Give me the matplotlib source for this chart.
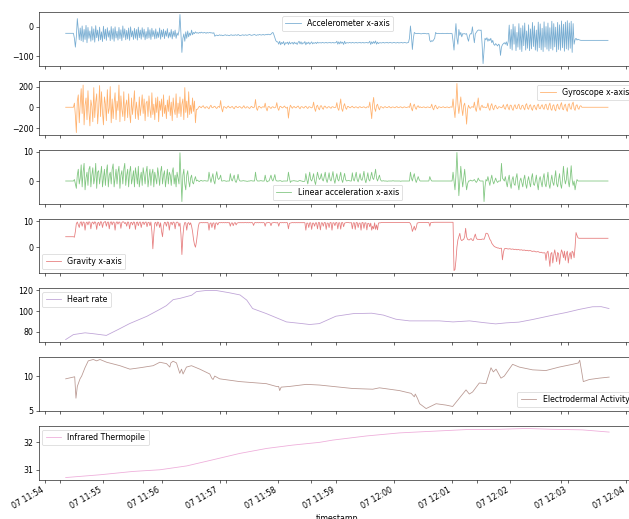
"""Seven stacked sensor traces (wrist device) over a ten-minute session."""

import matplotlib
matplotlib.use("Agg")
import matplotlib.dates as mdates
import matplotlib.pyplot as plt
import numpy as np
import pandas as pd

T0 = pd.Timestamp("2021-06-07 11:54:21")
STEP_S = 1  # sampling step of the motion channels, seconds

# motion channels, one value every STEP_S seconds
ACC_X = [
    -23, -23, -23, -23, -23, -23, -23, -23, -23,
    -40, -70, -35, 27, -10, -45,
    -5, -48, 2, -52, -10, -44, 4, -55, -3, -40,
    -15, -50, 0, -46, -8, -53, 3, -38, -12, -49,
    -2, -45, -18, -51, 1, -42, -9, -47, -4, -36,
    -14, -48, 0, -43, -7, -50, -1, -39, -16, -46,
    -3, -41, -11, -48, 2, -37, -8, -45, -13, -42,
    -5, -47, -1, -35, -15, -44, -6, -40, -10, -46,
    -2, -38, -12, -43, -4, -36, -9, -45, -17, -41,
    -3, -39, -11, -44, -6, -34, -14, -42, -8, -40,
    -18, -37, -5, -43, -12, -35, -9, -41, -15, -33,
    -7, -39, -20, -36, -10, -42, -16, -34, -12, -40, -22, -30, -15,
    41, -20, -88, -40,
    -25, -50, -18, -40, -15, -35, -22, -30, -12, -28,
    -20, -24, -18, -22, -21, -23, -20, -22, -19, -21,
    -22, -20, -21, -23, -20, -22, -21, -20, -22, -21, -23, -21,
    -33,
    -30, -29, -31, -30, -28, -30, -29, -31, -30, -29,
    -28, -30, -29, -30, -31, -29, -28, -30, -29, -30,
    -28, -29, -30, -27, -29, -31, -30, -29, -28, -30,
    -29, -28, -30, -29, -28, -27, -29, -30, -29, -28,
    -27, -29, -30, -28, -29, -27, -28, -29, -28, -27,
    -29, -28, -27, -28, -26, -27, -28, -26,
    -22, -20, -28, -38, -48, -52,
    -52, -60, -50, -62, -54, -58, -51, -63, -55, -57,
    -53, -61, -52, -59, -56, -54, -60, -53, -58, -55,
    -61, -54, -50, -59, -52, -60, -55, -57, -51, -62,
    -54, -58, -53, -60, -56, -52, -59, -55, -57, -54,
    -58, -53, -56, -55,
    -55, -56, -54, -55, -56, -55, -54, -56, -55, -55,
    -54, -56, -55, -54, -56, -55, -55,
    -50, -60, -52, -59, -51, -57, -53, -61, -50, -58, -55,
    -55, -56, -54, -55, -56, -54, -55, -56, -55, -54,
    -56, -55, -55, -54, -56, -55, -54, -56, -55, -55, -54, -56, -55,
    -50, -61, -52, -58, -51, -57, -49, -60, -53, -58, -55,
    -55, -56, -55, -54, -56, -55, -55, -54, -56, -55,
    -54, -55, -56, -55, -54, -55, -56, -55, -54, -56,
    -55, -55, -54, -56, -55, -54, -55, -56, -55, -54,
    -40, 2, -30, -78, -40,
    -20, -23, -24, -24, -23, -24, -24, -25, -24, -24,
    -23, -24, -24, -25, -24, -24,
    -47, -52, -48, -50, -45, -40, -20,
    -24, -24, -23, -24, -24, -24, -23, -24, -24, -24,
    -24, -23, -24, -24, -24, -23, -24,
    -50, -80, -30, 10, -40, -60, -10, -30, -20, -35,
    -24, -25, -24, -26, -24, -40, -50, -30, -24, -25,
    -1, -30, -55, -25, -20, -15,
    -12, -12, -13, -12, -60, -126, -80, -40,
    -45, -38, -50, -42, -48, -40, -55, -47, -60, -64,
    -58, -62, -66, -60, -63, -98, -70, -62, -58, -55,
    -60, -52, -65, -50,
    5, -75, -10, -80, 8, -60, 0, -82, -20, -70,
    10, -78, -5, -85, 3, -65, 12, -80, -15, -74,
    6, -82, -8, -76, 14, -68, 2, -80, -12, -84,
    15, -72, 9, -79, -6, -85, 16, -70, 0, -77,
    12, -83, -4, -75, 18, -80, 10, -69, -2, -86,
    14, -78, 6, -81, 19, -72, 8, -84, 15, -76,
    20, -80, 12, -74, 18, -88, 10, -60,
    -44, -40, -46, -43, -45, -46,
    -47, -47, -47, -47, -47, -47, -47, -47, -47, -47,
    -47, -47, -47, -47, -47, -47, -47, -47, -47, -47,
    -47, -47, -47, -47, -47, -47, -47, -47, -47,
]

GYRO_X = [
    0, 0, 0, 0, 0, 0, 0, 0, 0,
    40, -80, -245, 60, 120, -150, 30, 180, -60, 215,
    -170, 20, 90, -120, 160, -40, -180, 70, 10, -140,
    190, -100, 50, 130, -160, -20, 210, -90, 150, -50,
    -170, 100, 30, -130, 170, -60, -10, 200, -150, 80,
    -110, 40, 140, -120, 60, -30, 215, -140, 110, -20,
    -90, 150, -130, 20, 70, -100, 130, -60, -150, 90,
    -70, 30, 160, -110, 50, -40, -120, 100, -80, 10,
    120, -60, 80, -130, 40, 60, -90, 110, -20, -100,
    140, -70, 30, -120, 90, -50, 100, -140, 60, -30,
    80, -90, 120, -60, 20, -110, 70, -40, 110, -80,
    50, -130, 90, -20, -70, 130, -100, 40, -60, 100,
    -90, 30, 80, -120, 190, -50, 60, -100, 150, -70,
    20, -60, 90, -40, 60, -150, -20,
    -20, -5, 10, 3, -5, 8, 15, -2, -10, 4,
    5, -6, -15, 7, 20, -3, -5, 6, 10, -4, -12, 3, 8, -2,
    65, -10, -45, 5,
    5, -3, -10, 4, 12, -2, -6, 3, 8, -5,
    -15, 4, 10, -2, -4, 6, 6, -3, -10, 2,
    15, -4, -8, 5, 4, -6, -12, 3, 9, -2, -5, 4,
    75, -10, -30, 5,
    10, -2, -8, 3, 5, -1,
    40, -10, -35, 4,
    8, -3, -12, 2, 6, -4, -5, 3,
    45, -8, -30, 5,
    10, -2, -6, 4, 12, -3, -8, 2,
    -105, -20, 20, 5,
    -10, 3, 8, -4, -5, 6, 12, -3, -15, 4,
    6, -2, -8, 5, 10, -3, -12, 4, 5, -2, -6, 3,
    50, -10, -40, 8,
    20, -10, -25, 12, 15, -8, -20, 10, 10, -5,
    -8, 4, 6, -3, -10, 5, 5, -2, -4, 2,
    45, -10, -30, 20, 80, -15, -40, 10, 35, -5, -20, 8,
    8, -3, -5, 4, 10, -2, -6, 3, 4, -2,
    -8, 3, 6, -2, -3, 2, 5, -2, -7, 3, 4, -1,
    50, -20, -110, 30, 95, -10, -40, 15, 30, -5, -25, 5,
    5, -2, -8, 3, 6, -2, -4, 2, 8, -3,
    -6, 2, 3, -1, -5, 2, 7, -2, -4, 2,
    5, -2, -6, 2, 4, -1, -3, 1, 5, -2,
    40, -10, -35, 15, 30, -5, -20, 8, 15, -3,
    5, -2, -3, 2, 4, -2, -5, 2, 3, -1, -4, 2,
    30, -8, -25, 10, 20, -5, -15, 4,
    4, -1, -3, 2, 5, -2, -4, 1, 3, -1, -5, 2, 4, -1,
    80, -20, -100, 40, 230, 30, -60, 20, 100, -10, -80, 15, 40, -30, -163, -20,
    20, -5, -10, 4, 5, -2,
    50, -10, -40, 20, 90, -5, -30, 8, 20, -3,
    5, -2, -5, 2,
    40, -10, -30, 15, 35, -8, -25, 10, 20, -5, -15, 4,
    5, -1, -5, 2,
    25, -10, -20, 15, 30, -5, -25, 20, 20, -15,
    -30, 10, 25, -8, -15, 18, 30, -12, -20, 14,
    20, -6, -25, 22, 35, -10, -20, 16, 25, -14,
    -30, 12, 20, -8, -25, 18, 30, -10, -15, 12,
    25, -8, -20, 20, 30, -12, -25, 18, 40, -15,
    -30, 14, 25, -20, -35, 16, 30, -10, -20, 22,
    45, -15, -25, 18, 30, -20, -40, 25, 35, -10,
    -20, 30, 50, -12, -30, 16, 25, -8, -20, 10,
    15,
    0, 0, 0, 0, 0, 0, 0, 0, 0, 0, 0, 0, 0, 0,
    0, 0, 0, 0, 0, 0, 0, 0, 0, 0, 0, 0, 0, 0,
]

LIN_X = [
    0, 0, 0, 0, 0, 0, 0, 0, 0,
    0.5, -1, -2.5, 2, 4, -1, 1, 5.5, -2, 3,
    6, -3, 1, 3, -1.5, 4, 5, -2, 2, 4.5,
    -1, 1, 6, -2.5, 3, 3.5, -1, 2, 5, -2,
    1, 4, -1.5, 3, 5.5, -2, 2, 3, -1, 4,
    5.8, -2, 1, 4, -1, 3, 5, -2.5, 2, 3.5,
    -1, 4, 6, -1.5, 2, 4, -2, 3, 5, -1,
    1, 3.5, -2, 4.5, 2, -1, 5, -2, 1, 3,
    -1.5, 4.5, 2, -1, 3, 5, -2, 1, 4, -1.5,
    2.5, 4, -2, 3, 1, -1, 4.5, 2, -1.5, 3,
    5, -1, 2, 3.5, -2, 1, 4, -1, 3, 2,
    -1.5, 3, 4.5, -1, 2, -2, 3, 1, -1,
    9.6, 1, -7, 2,
    4, -1, -3, 2, 3.5, 0, -2, 1, 2, -0.5, -1, 0.5, 1.5, 0,
    0.3, 0, -0.2, 0.1, 0.2, 0, 0, 0.1, 0.1, 0, 0, 0,
    3, 1, -0.5, 1, 2.5, 0, -1, 1.5, 3.2, 1, 0.5, 1, 2, 0,
    0, 0.1, 0.1, 0, -0.1, 0, 0, 0,
    2.5, 0.5, 0, 1, 2, 0, -0.5, 0.5, 2.3, 0.5, 0, 0,
    0, 0.1, 0.1, 0, 0, -0.1, -0.1, 0, 0, 0.1, 0.1, 0, 0, 0,
    3, 0.5, 0, 0,
    0, 0.1, 0.1, 0, 0, 0,
    2, 0.3, -0.3, 0,
    0, 1, 2, 0.5, 0, 1, 2.2, 0.3, 0, 0,
    0, 0.1, 0.1, -0.1, -0.1, 0, 0, 0, 0, 0,
    3, 1, -0.5, 0,
    0, 0.1, 0.1, 0, 0, -0.1, -0.1, 0.1, 0.2, 0, 0, -0.2, -0.2, 0,
    2.5, 0.5, -1, 1, 3, 0.5, 0, 1, 2.5, 0, -1.2, 1, 3, 1.5, 0.5, 1,
    2.5, 0.5, 0, 1.5, 3, 0.5, -0.5, 1, 2.8, 0.5,
    0, 1.5, 3.2, 0.5, -0.8, 1, 2.5, 0.5, 0, 1.5,
    3, 0.5, -0.5, 1, 2.6, 0.5, 0, 0.1,
    0.2, 0.1, 0, 0,
    2.8, 0.5, 0, 1.5, 3, 0.5, -0.3, 1, 2.5, 0.5,
    0.2, 1.5, 3.3, 0.5, -0.6, 1, 2.8, 0.5, 0, 1.5,
    3, 1, 0.5, 2, 4, 1, 0, 1, 2, 0.5,
    0, 0, 0.1, 0, 0, 0, -0.1, 0, 0, 0,
    0, 0, 0.1, 0, 0, 0, 0, 0, 0, 0,
    -0.1, 0, 0, 0, 0, 0, 0, 0, 0, 0,
    3, 1, 0, 1.5, 2.5, 0.5, -0.5, 0.5, 1.5, 0.5,
    0, 0, 0, 0, 0, 0, 0, 0, 0, 0,
    1.5, 0.5, 0, 0,
    0, 0, 0, 0, 0, 0, 0, 0, 0, 0,
    0, 0, 0, 0, 0, 0, 0, 0, 0, 0,
    3, 0, -3, 2, 9.7, 2, -5, 0, 5, 1, -2, 1, 4, 0, -3, -1,
    0, 0, 0.3, 0.1, 0, 0.2, 0.5, 0, -0.5, 0, 1, 0.3, 0, 0, 0, 0,
    -7, -2, 0.5, 0,
    1.5, 0, -1.5, 0.5, 2, 0, -1, 0, 1, 0, -0.5, 0,
    0, 0, 6, 1, 0.5, 0,
    1.5, -0.5, -2, 0.5, 2, -1, -2.5, 0.5, 1.5, -1,
    -1.5, 1, 2.5, -1, -3, 0, 1, -0.5, -2, 0.5,
    2, -1, -2.5, 0, 1.5, -0.5, -2, 1, 2.5, -1,
    -1.5, 0, 2, -1, -3, 0.5, 1.5, -0.5, -2, 1,
    2.5, -1, -2, 0.5, 3, -1, -2.5, 0, 2, -0.5,
    -1.5, 1, 3.5, -1, -2, 0.5, 2.5, -1, -2.5, 0.5,
    5, 1, -1, 0.5, 4.5, 0, -2, 1, 5.2, 0.5,
    -1.5, 0,
    -3, -1, 0.5, 0,
    0, 0, 0, 0, 0, 0, 0, 0, 0, 0,
    0, 0, 0, 0, 0, 0, 0, 0, 0, 0,
    0, 0, 0, 0, 0, 0, 0, 0, 0, 0, 0,
]

GRAV_X = [
    4, 4, 4, 4, 4, 4, 4, 4, 4, 3.8, 6, 9,
    9.6, 8.5, 7.5, 9.4, 9.7, 8, 9.6, 9.5, 6.5, 9.2,
    9.6, 8.5, 9.7, 9.5, 7, 9.3, 9.6, 8.8, 9.7, 9.4,
    6.8, 9.2, 9.5, 8.2, 9.7, 9.6, 7.5, 9.3, 9.6, 9.8,
    8, 9.5, 9.6, 7, 9.4, 9.7, 8.5, 9.6, 9.5, 6.5,
    9.3, 9.7, 8.8, 9.6, 9.5, 7.2, 9.4, 9.7, 9.6, 9,
    9.4, 8, 9.6, 9.5, 7, 9.3, 9.5, 8.5, 9.6, 9.5,
    6.8, 9.4, 9.6, 8.2, 9.5, 9.6, 7.5, 9.3, 9.6, 8.6,
    9.5, 9.6, 7.8, 9.4, 9.5, 8.2, 9.6, 6, -0.6, 5,
    9.2, 9.5, 8, 9.6, 9.4, 7.5, 9.3, 6, 4, 8,
    9.5, 9.4, 8, 9.6, 9.5, 6.5, 9.2, 9.5, 8.5, 9.6,
    9.4, 7, 9.3, 9.6, 9.4, 8, 9.2, 5, -2.8, 4,
    8, 9.4, 9.3, 6.5, 9.1, 9.4, 8.5, 9.3, 8, 6,
    3, 1, 0, 2, 5, 8, 9.3,
    9.3, 9.4, 9.3, 9.4, 9.3, 9.4, 9.3, 9.4, 9.3,
    6.5, 9.1, 9.3, 7.5, 9.2, 9.3, 6.8, 9.2, 9.3, 8.5, 9.3, 9.4, 9.3, 9.4,
    9.3, 9.4, 9.3, 9.4, 9.3, 9.4, 9.3, 9.4,
    8, 9.2, 9.3, 8.2, 9.2, 9.4, 8.5, 9.2, 9.3, 9.4, 9.3, 9.4,
    9.3, 9.4, 9.3, 9.4, 9.4, 9.3, 9.4, 9.3, 9.4, 9.3,
    9.4, 9.3, 8.3, 9.3, 9.4, 9.3, 9.4, 9.3, 9.4, 9.3, 9.4, 9.3, 9.4, 9.3,
    8, 9.3, 9.3, 9.4, 9.4, 9.3, 8.2, 9.3, 9.3, 9.4,
    9.4, 9.3, 9.3, 9.4, 8, 9.3, 9.4, 9.3, 9.4, 9.3, 9.4, 9.3, 9.4, 9.3,
    7, 9.1, 9.2, 9.3, 9.4, 9.3, 9.4, 9.3, 9.4, 9.3,
    9.4, 9.3, 9.4, 9.3, 9.4, 9.3, 9.4, 9.3,
    6.5, 9.2, 9.2, 7.5, 9.3, 9.3, 6.8, 9.2, 9.2, 8, 9.3, 9.3, 7, 9.4, 9.4,
    6.6, 9.3, 9.3, 8, 9.4, 9.4, 6.8, 9.2, 9.2, 7.5,
    9.4, 9.4, 6.5, 9.3, 9.3, 8.2, 9.4, 9.4, 7, 9.3,
    9.3, 6.9, 9.4, 9.4, 7.8, 9.2, 9.3, 9.4, 9.4,
    9.4, 9.3, 9.3, 9.4,
    7, 9.3, 9.3, 6.8, 9.4, 9.4, 7.5, 9.2, 9.2, 6.5,
    9.4, 9.4, 7.2, 9.3, 9.3, 6.6, 9.1, 9.1, 7.8, 9.2,
    6.5, 8, 7, 9.3, 6.8, 8.5, 6.6, 9.2, 9.3, 9.3,
    9.4, 9.4, 9.4, 9.4, 9.4, 9.4, 9.4, 9.4, 9.4, 9.4,
    9.4, 9.4, 9.4, 9.4, 9.4, 9.4, 9.4, 9.4, 9.4, 9.4,
    9.4, 9.4, 9.4, 9.4, 9.4, 9.4, 9.4, 9.4, 9.4, 9.4,
    9, 8, 6, 7, 8, 6.5, 7.5, 9.2, 9.3, 9.4,
    9.4, 9.4, 9.4, 9.4, 9.4, 9.4, 9.4, 9.4, 9.4, 9.4,
    8, 9.4, 9.4, 9.4,
    9.5, 9.5, 9.5, 9.5, 9.5, 9.5, 9.5, 9.5, 9.5, 9.5,
    9.5, 9.5, 9.5, 9.5, 9.5, 9.5, 9.5, 9.5, 9.5, 9.5,
    9.5, -8.9, -8.5, -5, 0, 2.8,
    4, 5.3, 3, 2.5, 2.8, 3, 4, 7.2, 4, 3,
    2.8, 2.8, 3.2, 3.2, 2.6, 2.6, 4, 5, 3.5, 3,
    3, 3, 2.9, 2.9, 3.1, 3.1, 3, 4, 5.3, 5.3, 5, 4,
    3, 2.5, 1.5, 1, 0.5, 0.2, 0, -0.1,
    -0.3, -0.3, -0.5, -0.4, -0.4, -4.8, -2, -0.6, -0.5, -0.5,
    -0.6, -0.7, -0.6, -0.6, -0.8, -0.7, -0.7, -0.9, -0.8, -0.8,
    -1.0, -0.9, -0.9, -1.1, -1.0, -1.0, -1.2, -1.1, -1.1, -1.3,
    -1.2, -1.2, -1.4, -1.3, -1.3, -1.5, -1.6, -1.5, -1.5, -1.7,
    -1.8, -1.7, -1.7, -1.9, -2.0, -1.9, -2.1, -2.2, -2.1, -2.2,
    -5, -2, -1.5, -4, -7.3, -2.5, -2, -6, -3, -1,
    -3, -5.5, -2, -2.5, -6.5, -3, -1, -2, -4, -1.5,
    -5, -2.5, -1.5, -6, -3, -2, -4.5, -1.5, -2, -4,
    0, 5.6, 4.5, 3.6, 3.4, 3.4, 3.4, 3.4,
    3.4, 3.4, 3.4, 3.4, 3.4, 3.4, 3.4, 3.4, 3.4, 3.4,
    3.4, 3.4, 3.4, 3.4, 3.4, 3.4, 3.4, 3.4, 3.4, 3.4,
    3.4, 3.4, 3.4, 3.4, 3.4, 3.4, 3.4,
]

# slow channels, (seconds after T0, value)
HR_T = [0, 8, 20, 28, 42, 54, 66, 84, 97, 104, 111, 118, 130, 135, 145,
        156, 169, 180, 187, 193, 207, 228, 244, 252, 262, 279, 297, 316,
        328, 341, 355, 386, 400, 417, 431, 444, 455, 468, 482, 503, 517,
        530, 544, 553, 561]
HR = [72.3, 77.1, 78.8, 78.0, 76.3, 81.9, 87.7, 94.8, 101.3, 105.0, 110.8,
      112.0, 115.0, 118.5, 119.6, 119.5, 117.4, 115.3, 110.3, 102.2, 97.4,
      89.3, 87.7, 86.8, 87.7, 94.8, 97.3, 97.7, 95.9, 91.9, 90.3, 90.3,
      89.3, 90.3, 88.7, 87.4, 88.4, 89.1, 91.6, 95.8, 98.4, 101.3, 103.9,
      104.0, 102.2]

EDA_T = [0, 7.8, 9.3, 10.6, 12, 14.8, 16.5, 19.9, 23.3, 28.5, 32, 35.4,
         42.3, 56, 66.3, 76.6, 90.3, 97.2, 104.1, 107.5, 108.6, 110.9, 114.4,
         117.8, 119.6, 121.2, 124.7, 129.9, 138.5, 148.8, 150.8, 152.2, 153.9,
         159, 179.7, 207.2, 217.5, 219.9, 221, 222.5, 231.2, 248.5, 262.2,
         275.9, 296.5, 317.1, 324, 344.6, 356.7, 360, 361, 363.2, 365.5,
         372.2, 382.5, 392.8, 399.6, 406.5, 413.4, 416.8, 420.2, 427.1, 434,
         439.2, 441.6, 444.4, 449.5, 452.9, 461.5, 468.4, 482.1, 495.9, 509.6,
         523.4, 529.5, 530.8, 532.4, 534.5, 540.7, 551, 561.2]
EDA = [9.6, 9.85, 9.9, 6.8, 8.5, 9.6, 10.0, 11.2, 12.2, 12.4, 12.2, 12.4,
       12.0, 11.5, 11.0, 11.2, 11.5, 12.0, 11.8, 11.3, 11.9, 12.15, 11.9,
       10.4, 11.0, 10.3, 11.3, 11.5, 11.0, 10.3, 9.7, 9.5, 10.0, 9.6, 9.2,
       8.9, 8.5, 8.5, 7.9, 8.4, 8.5, 8.8, 8.7, 8.5, 8.2, 8.1, 8.3, 7.9, 7.5,
       7.0, 7.4, 6.8, 6.0, 5.3, 6.0, 5.8, 5.6, 6.8, 8.0, 7.4, 7.7, 9.0, 8.9,
       11.2, 10.6, 11.0, 9.7, 10.0, 11.7, 11.3, 10.9, 10.8, 11.3, 11.7, 11.9,
       12.3, 11.0, 9.2, 9.5, 9.7, 9.85]

TEMP_T = [0, 35.4, 69.4, 97.2, 125, 151.9, 179.7, 207.5, 234.3, 262.2, 275.6,
          310.6, 344.6, 378.7, 413.7, 447.7, 475.6, 502.4, 533.3, 561.2]
TEMP = [30.71, 30.81, 30.93, 30.99, 31.13, 31.35, 31.58, 31.76, 31.88, 31.98,
        32.06, 32.21, 32.32, 32.38, 32.44, 32.45, 32.48, 32.45, 32.43, 32.35]

LABELS = ["Accelerometer x-axis", "Gyroscope x-axis", "Linear acceleration x-axis",
          "Gravity x-axis", "Heart rate", "Electrodermal Activity",
          "Infrared Thermopile"]
YTICKS = [[0, -100], [200, 0, -200], [10, 0], [10, 0], [120, 100, 80],
          [10, 5], [32, 31]]
LEGEND_LOC = ["upper center", "upper right", "lower center", "lower left",
              "upper left", "lower right", "upper left"]
MINOR_TICKS = ["11:54:15", "11:55:41", "11:57:07", "11:58:34", "12:01:26",
               "12:02:52"]


def _sampled(vals):
    return T0 + pd.to_timedelta(np.arange(len(vals)) * STEP_S, unit="s")


def _timed(secs):
    return T0 + pd.to_timedelta(np.asarray(secs, dtype=float), unit="s")


def main():
    plt.rcParams["font.size"] = 10.75
    series = [
        (_sampled(ACC_X), ACC_X),
        (_sampled(GYRO_X), GYRO_X),
        (_sampled(LIN_X), LIN_X),
        (_sampled(GRAV_X), GRAV_X),
        (_timed(HR_T), HR),
        (_timed(EDA_T), EDA),
        (_timed(TEMP_T), TEMP),
    ]

    dpi = 52.45
    fig, axes = plt.subplots(7, 1, sharex=True, figsize=(12.0, 9.9), dpi=dpi)
    fig.subplots_adjust(left=0.0612, right=1.011, top=0.9763, bottom=0.0751,
                        hspace=0.278)

    for i, (ax, (t, v)) in enumerate(zip(axes, series)):
        ax.plot(t, v, color=f"C{i}", lw=1.1, alpha=0.6, label=LABELS[i])
        ax.set_yticks(YTICKS[i])
        ax.legend(loc=LEGEND_LOC[i])

    minor = [mdates.date2num(pd.Timestamp(f"2021-06-07 {s}")) for s in MINOR_TICKS]
    ax = axes[-1]
    ax.xaxis.set_major_locator(mdates.MinuteLocator())
    ax.xaxis.set_major_formatter(mdates.DateFormatter("%d %H:%M"))
    ax.xaxis.set_minor_locator(matplotlib.ticker.FixedLocator(minor))
    for a in axes:
        a.tick_params(axis="x", which="minor", length=3.5, width=0.8)
    plt.setp(ax.get_xticklabels(), rotation=30, ha="right")
    ax.set_xlabel("timestamp")

    fig.savefig("out.png", dpi=dpi)
    plt.close(fig)


if __name__ == "__main__":
    main()
